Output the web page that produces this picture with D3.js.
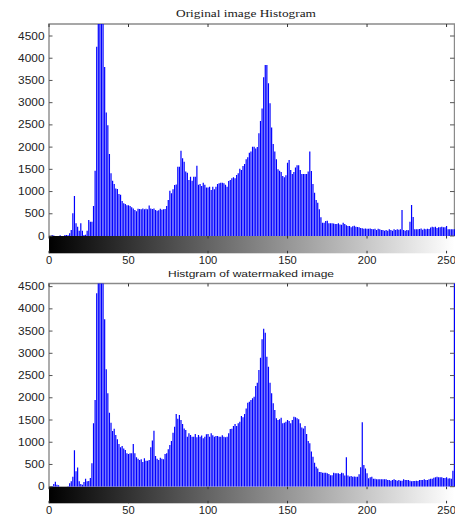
<!DOCTYPE html>
<html>
<head>
<meta charset="utf-8">
<script src="https://cdn.jsdelivr.net/npm/d3@7"></script>
<style>
body { margin: 0; background: #fff; }
</style>
</head>
<body>
<div id="chart"></div>
<script>
// gray levels 0..255
const bins = d3.range(256);

// pixel counts
const originalCounts = [
  0,0,20,10,0,0,0,15,0,0,20,25,15,60,135,510,
  900,285,210,120,285,120,20,30,120,360,320,320,675,1470,4260,5400,
  6100,5800,5000,3800,2780,2490,1845,1410,1245,1170,1070,1060,945,930,790,735,
  720,690,690,675,645,620,585,555,615,610,600,620,600,615,600,685,
  620,610,620,585,570,580,615,590,600,610,675,810,1020,960,1050,1150,
  1160,1560,1560,1920,1750,1670,1450,1425,1260,1335,1245,1335,1335,1580,1155,1170,
  1125,1200,1155,1090,1090,1110,1035,1110,1050,1110,1170,1185,1200,1200,1185,1155,
  1110,1240,1260,1300,1320,1300,1370,1410,1515,1485,1575,1620,1725,1770,1875,1900,
  2010,2010,1970,2000,2310,2590,2870,3570,3850,3850,3435,2985,2440,2070,1900,1725,
  1500,1470,1440,1350,1320,1365,1650,1710,1485,1395,1440,1540,1590,1590,1485,1395,
  1395,1395,1395,1450,1900,1460,1170,975,810,750,600,420,300,300,340,345,
  285,285,285,280,270,270,285,260,255,300,270,240,225,225,195,220,
  230,210,205,195,180,175,165,170,165,165,170,160,150,165,135,165,
  150,135,135,120,135,120,150,135,120,150,135,150,140,150,585,135,
  120,135,130,320,700,430,150,150,150,160,170,140,165,150,165,160,
  190,210,195,210,180,195,195,210,195,195,225,150,150,150,150,150
];

const watermarkedCounts = [
  0,0,15,60,110,45,30,0,0,0,0,0,10,75,120,225,
  820,350,430,120,60,45,105,180,120,130,195,525,1425,1950,4350,5300,
  6000,5700,4900,3765,2640,2100,1665,1440,1250,1305,1160,1065,960,885,915,860,
  825,750,735,750,750,960,750,660,630,600,615,555,640,585,585,600,
  890,1040,1260,690,630,600,650,630,620,735,750,840,940,1030,1215,1350,
  1635,1530,1610,1500,1410,1310,1275,1125,1200,1160,1125,1125,1185,1110,1160,1125,
  1150,1090,1125,1180,1185,1125,1200,1155,1125,1140,1140,1125,1125,1155,1125,1110,
  1125,1200,1300,1305,1365,1410,1365,1425,1460,1590,1560,1635,1760,1890,1910,1950,
  1990,2025,2265,2340,2625,2900,3315,3555,3465,2925,2700,2340,2100,1875,1725,1540,
  1500,1515,1550,1425,1440,1460,1500,1480,1425,1500,1575,1560,1540,1515,1425,1330,
  1310,1365,1185,1030,975,790,675,540,450,410,330,330,315,315,315,300,
  285,260,260,315,300,300,300,285,315,300,250,660,250,230,240,225,
  230,225,225,280,435,1450,490,410,300,190,210,225,180,180,165,170,
  165,165,170,165,165,150,150,135,150,165,150,135,150,135,135,165,
  150,150,150,135,120,130,130,135,130,150,150,150,165,150,150,165,
  180,180,200,210,225,210,210,210,195,195,210,185,190,180,360,5200
];

const xTicks = [0, 50, 100, 150, 200, 250];
const yTicks = [0, 500, 1000, 1500, 2000, 2500, 3000, 3500, 4000, 4500];

const width = 455, height = 516;

const svg = d3.select("#chart")
  .append("svg")
  .attr("width", width)
  .attr("height", height);

const defs = svg.append("defs");
const grad = defs.append("linearGradient").attr("id", "grayramp");
grad.append("stop").attr("offset", "0%").attr("stop-color", "#000");
grad.append("stop").attr("offset", "100%").attr("stop-color", "#fff");

const x = d3.scaleLinear().domain([0, 255]).range([49, 454.5]);

function drawHist(counts, p) {
  const g = svg.append("g");
  const y = d3.scaleLinear().domain([0, p.yMax]).range([p.zero, p.top]);

  // clip bars to the axes box
  defs.append("clipPath").attr("id", p.id)
    .append("rect")
    .attr("x", x(0) - 1).attr("y", p.top)
    .attr("width", x(255) - x(0) + 2).attr("height", p.zero - p.top);

  // grayscale bar under the histogram
  g.append("rect")
    .attr("x", x(0)).attr("y", p.zero)
    .attr("width", x(255) - x(0)).attr("height", p.barH)
    .attr("fill", "url(#grayramp)");

  // frame
  g.append("path")
    .attr("d", `M${x(0)},${p.zero}V${p.top}H${x(255)}V${p.zero}`)
    .attr("fill", "none")
    .attr("stroke", "#8a8a8a")
    .attr("stroke-width", 1.4);

  // stems
  g.append("g").attr("clip-path", `url(#${p.id})`)
    .selectAll("line")
    .data(bins.filter(b => counts[b] > 0))
    .join("line")
    .attr("x1", b => x(b)).attr("x2", b => x(b))
    .attr("y1", y(0)).attr("y2", b => y(counts[b]))
    .attr("stroke", "#0000ff")
    .attr("stroke-width", 1.2);

  // y ticks, both sides, pointing in
  yTicks.forEach(t => {
    g.append("line")
      .attr("x1", x(0)).attr("x2", x(0) + 3.5)
      .attr("y1", y(t)).attr("y2", y(t))
      .attr("stroke", "#555");
    g.append("line")
      .attr("x1", x(255) - 4.5).attr("x2", x(255))
      .attr("y1", y(t)).attr("y2", y(t))
      .attr("stroke", "#555");
    g.append("text")
      .attr("x", 44.5).attr("y", y(t) + 3.5)
      .attr("text-anchor", "end")
      .attr("font-family", "'Liberation Sans', Arial, sans-serif")
      .attr("font-size", 10)
      .attr("fill", "#222")
      .attr("textLength", String(t).length * 6.6)
      .attr("lengthAdjust", "spacingAndGlyphs")
      .text(t);
  });

  // x ticks: top edge and on the gray bar
  xTicks.forEach(t => {
    g.append("line")
      .attr("x1", x(t)).attr("x2", x(t))
      .attr("y1", p.top).attr("y2", p.top + 3)
      .attr("stroke", "#333");
    g.append("line")
      .attr("x1", x(t)).attr("x2", x(t))
      .attr("y1", p.zero).attr("y2", p.zero + 2.5)
      .attr("stroke", "#333");
    g.append("line")
      .attr("x1", x(t)).attr("x2", x(t))
      .attr("y1", p.zero + p.barH - 2.5).attr("y2", p.zero + p.barH)
      .attr("stroke", "#333");
    g.append("text")
      .attr("x", x(t)).attr("y", p.labelY)
      .attr("text-anchor", "middle")
      .attr("font-family", "'Liberation Sans', Arial, sans-serif")
      .attr("font-size", 10)
      .attr("fill", "#222")
      .attr("textLength", String(t).length * 6.2)
      .attr("lengthAdjust", "spacingAndGlyphs")
      .text(t);
  });

  // title
  g.append("text")
    .attr("x", p.titleX).attr("y", p.titleY)
    .attr("text-anchor", "middle")
    .attr("font-family", p.titleFont)
    .attr("font-size", p.titleSize)
    .attr("fill", "#1a1a1a")
    .attr("textLength", p.titleW)
    .attr("lengthAdjust", "spacingAndGlyphs")
    .text(p.title);
}

drawHist(originalCounts, {
  id: "clipTop", top: 24, zero: 236, barH: 17.3, yMax: 4770, labelY: 263.5,
  title: "Original image Histogram", titleX: 246, titleY: 16.7, titleW: 140,
  titleFont: "'Liberation Serif', 'Times New Roman', serif", titleSize: 10.8
});

drawHist(watermarkedCounts, {
  id: "clipBottom", top: 283.5, zero: 486.7, barH: 16.6, yMax: 4570, labelY: 513.5,
  title: "Histgram of watermaked image", titleX: 251, titleY: 276.7, titleW: 166,
  titleFont: "'Liberation Sans', Arial, sans-serif", titleSize: 9.8
});
</script>
</body>
</html>
